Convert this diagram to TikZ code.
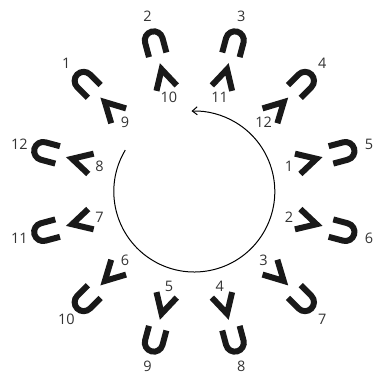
\documentclass[tikz,border=0pt]{standalone}
\usepackage{fontspec}
\setmainfont{Open Sans}
\usetikzlibrary{arrows.meta}
\begin{document}
\begin{tikzpicture}[x=1pt,y=1pt,
  num/.style={font=\fontsize{14.5}{14.5}\selectfont, text=black!80, inner sep=0pt},
  ushape/.pic={\draw[line width=6pt, black!90] (-9,13.5) -- (-9,-1.5) arc[start angle=180,end angle=360,radius=9] -- (9,13.5);},
  vshape/.pic={\draw[line width=6pt, black!90, line join=miter, miter limit=10] (-10.5,12) -- (0,-7.5) -- (10.5,12);},
  cycle arrow/.style={line width=1pt, -{Straight Barb[length=5pt,width=8pt]}}
  ]
\useasboundingbox (-194.3,-183.5) rectangle (182.7,191.5);
\foreach \k/\inner in {1/9,2/10,3/11,4/12,5/1,6/2,7/3,8/4,9/5,10/6,11/7,12/8}{
  \pgfmathsetmacro\a{135-30*(\k-1)}
  \pgfmathsetmacro\r{\a+90}
  \pic[rotate=\r] at (\a:155) {ushape};
  \pic[rotate=\r] at (\a:119) {vshape};
  \node[num] (out\k) at (\a:181) {\k};
  \node[num] (in\k) at (\a:98) {\inner};
}
\draw[cycle arrow] (149:80.5) arc[start angle=149, end angle=452, radius=80.5];
\end{tikzpicture}
\end{document}
